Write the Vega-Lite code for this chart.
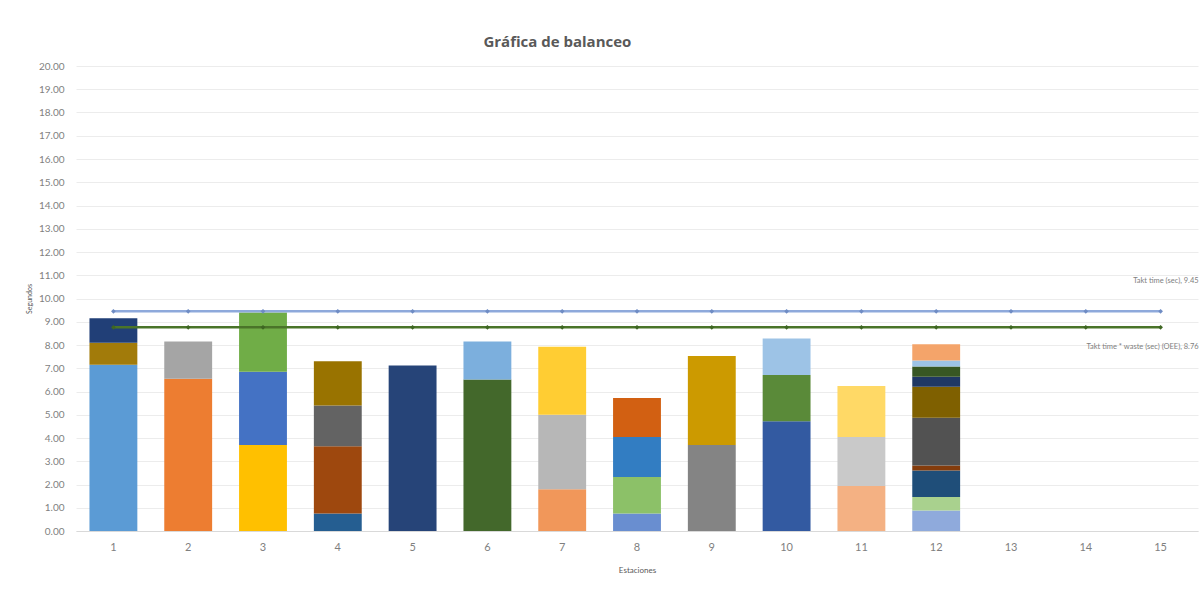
{
  "$schema": "https://vega.github.io/schema/vega-lite/v6.json",
  "autosize": "none",
  "width": 1122,
  "height": 465,
  "padding": {"left": 76, "top": 66, "right": 6, "bottom": 63},
  "background": "white",
  "config": {
    "font": "Lato",
    "view": {"stroke": null}
  },
  "title": {
    "text": "Gráfica de balanceo",
    "anchor": "start",
    "dx": 458,
    "offset": 11,
    "fontSize": 15,
    "fontWeight": "bold",
    "font": "Open Sans",
    "color": "#595959"
  },
  "datasets": {
    "tasks": [
      {"station": 1, "task": 1, "seconds": 7.15},
      {"station": 1, "task": 41, "seconds": 0.95},
      {"station": 1, "task": 42, "seconds": 1.05},
      {"station": 2, "task": 2, "seconds": 6.55},
      {"station": 2, "task": 3, "seconds": 1.6},
      {"station": 3, "task": 4, "seconds": 3.7},
      {"station": 3, "task": 5, "seconds": 3.15},
      {"station": 3, "task": 6, "seconds": 2.55},
      {"station": 4, "task": 7, "seconds": 0.75},
      {"station": 4, "task": 8, "seconds": 2.9},
      {"station": 4, "task": 9, "seconds": 1.75},
      {"station": 4, "task": 10, "seconds": 1.9},
      {"station": 5, "task": 11, "seconds": 7.12},
      {"station": 6, "task": 12, "seconds": 6.52},
      {"station": 6, "task": 13, "seconds": 1.63},
      {"station": 7, "task": 14, "seconds": 1.8},
      {"station": 7, "task": 15, "seconds": 3.2},
      {"station": 7, "task": 16, "seconds": 2.93},
      {"station": 8, "task": 17, "seconds": 0.75},
      {"station": 8, "task": 18, "seconds": 1.57},
      {"station": 8, "task": 19, "seconds": 1.72},
      {"station": 8, "task": 20, "seconds": 1.68},
      {"station": 9, "task": 21, "seconds": 3.7},
      {"station": 9, "task": 22, "seconds": 3.83},
      {"station": 10, "task": 23, "seconds": 4.72},
      {"station": 10, "task": 24, "seconds": 1.99},
      {"station": 10, "task": 25, "seconds": 1.57},
      {"station": 11, "task": 26, "seconds": 1.94},
      {"station": 11, "task": 27, "seconds": 2.1},
      {"station": 11, "task": 28, "seconds": 2.2},
      {"station": 12, "task": 29, "seconds": 0.88},
      {"station": 12, "task": 30, "seconds": 0.58},
      {"station": 12, "task": 31, "seconds": 1.14},
      {"station": 12, "task": 32, "seconds": 0.22},
      {"station": 12, "task": 33, "seconds": 2.05},
      {"station": 12, "task": 34, "seconds": 1.33},
      {"station": 12, "task": 35, "seconds": 0.43},
      {"station": 12, "task": 36, "seconds": 0.45},
      {"station": 12, "task": 37, "seconds": 0.25},
      {"station": 12, "task": 38, "seconds": 0.7}
    ],
    "takt": [
      {"station": 1, "series": "Takt time (sec)", "seconds": 9.45},
      {"station": 2, "series": "Takt time (sec)", "seconds": 9.45},
      {"station": 3, "series": "Takt time (sec)", "seconds": 9.45},
      {"station": 4, "series": "Takt time (sec)", "seconds": 9.45},
      {"station": 5, "series": "Takt time (sec)", "seconds": 9.45},
      {"station": 6, "series": "Takt time (sec)", "seconds": 9.45},
      {"station": 7, "series": "Takt time (sec)", "seconds": 9.45},
      {"station": 8, "series": "Takt time (sec)", "seconds": 9.45},
      {"station": 9, "series": "Takt time (sec)", "seconds": 9.45},
      {"station": 10, "series": "Takt time (sec)", "seconds": 9.45},
      {"station": 11, "series": "Takt time (sec)", "seconds": 9.45},
      {"station": 12, "series": "Takt time (sec)", "seconds": 9.45},
      {"station": 13, "series": "Takt time (sec)", "seconds": 9.45},
      {"station": 14, "series": "Takt time (sec)", "seconds": 9.45},
      {"station": 15, "series": "Takt time (sec)", "seconds": 9.45},
      {"station": 1, "series": "Takt time * waste (sec) (OEE)", "seconds": 8.76},
      {"station": 2, "series": "Takt time * waste (sec) (OEE)", "seconds": 8.76},
      {"station": 3, "series": "Takt time * waste (sec) (OEE)", "seconds": 8.76},
      {"station": 4, "series": "Takt time * waste (sec) (OEE)", "seconds": 8.76},
      {"station": 5, "series": "Takt time * waste (sec) (OEE)", "seconds": 8.76},
      {"station": 6, "series": "Takt time * waste (sec) (OEE)", "seconds": 8.76},
      {"station": 7, "series": "Takt time * waste (sec) (OEE)", "seconds": 8.76},
      {"station": 8, "series": "Takt time * waste (sec) (OEE)", "seconds": 8.76},
      {"station": 9, "series": "Takt time * waste (sec) (OEE)", "seconds": 8.76},
      {"station": 10, "series": "Takt time * waste (sec) (OEE)", "seconds": 8.76},
      {"station": 11, "series": "Takt time * waste (sec) (OEE)", "seconds": 8.76},
      {"station": 12, "series": "Takt time * waste (sec) (OEE)", "seconds": 8.76},
      {"station": 13, "series": "Takt time * waste (sec) (OEE)", "seconds": 8.76},
      {"station": 14, "series": "Takt time * waste (sec) (OEE)", "seconds": 8.76},
      {"station": 15, "series": "Takt time * waste (sec) (OEE)", "seconds": 8.76}
    ],
    "labels": [
      {"station": 15, "series": "Takt time (sec)", "seconds": 10.75, "label": "Takt time (sec), 9.45"},
      {"station": 15, "series": "Takt time * waste (sec) (OEE)", "seconds": 7.9, "label": "Takt time * waste (sec) (OEE), 8.76"}
    ]
  },
  "encoding": {
    "x": {
      "field": "station",
      "type": "ordinal",
      "scale": {"domain": [1,2,3,4,5,6,7,8,9,10,11,12,13,14,15], "paddingInner": 0.36, "paddingOuter": 0.18},
      "axis": {
        "title": "Estaciones",
        "titleFontSize": 8,
        "titleFontWeight": "normal",
        "titleColor": "#595959",
        "titlePadding": 14,
        "labelAngle": 0,
        "labelFontSize": 11,
        "labelColor": "#7f7f7f",
        "labelPadding": 10,
        "ticks": false,
        "domainColor": "#d9d9d9",
        "grid": false
      }
    },
    "y": {
      "field": "seconds",
      "type": "quantitative",
      "scale": {"domain": [0, 20], "nice": false},
      "axis": {
        "title": "Segundos",
        "titleFontSize": 7,
        "titleFontWeight": "normal",
        "titleColor": "#595959",
        "titlePadding": 6,
        "values": [0,1,2,3,4,5,6,7,8,9,10,11,12,13,14,15,16,17,18,19,20],
        "format": ".2f",
        "labelFontSize": 10,
        "labelColor": "#7f7f7f",
        "labelPadding": 12,
        "ticks": false,
        "domain": false,
        "gridColor": "#ececec",
        "gridWidth": 1
      }
    }
  },
  "layer": [
    {
      "data": {"name": "tasks"},
      "mark": {"type": "bar"},
      "encoding": {
        "color": {
          "field": "task",
          "type": "nominal",
          "legend": null,
          "scale": {
            "domain": [1,2,3,4,5,6,7,8,9,10,11,12,13,14,15,16,17,18,19,20,21,22,23,24,25,26,27,28,29,30,31,32,33,34,35,36,37,38,41,42],
            "range": ["#5B9BD5","#ED7D31","#A5A5A5","#FFC000","#4472C4","#70AD47","#255E91","#9E480E","#636363","#997300","#264478","#43682B","#7CAFDD","#F1975A","#B7B7B7","#FFCD33","#698ED0","#8CC168","#327DC2","#D26012","#848484","#CC9A00","#335AA1","#5A8A39","#9DC3E6","#F4B183","#C9C9C9","#FFD966","#8FAADC","#A9D18E","#1F4E79","#843C0C","#525252","#7F6000","#203864","#385723","#9DC3E6","#F4A46A","#A27B0A","#213F77"]
          }
        },
        "order": {"field": "task", "type": "quantitative"}
      }
    },
    {
      "data": {"name": "takt"},
      "mark": {"type": "line", "strokeWidth": 2.5},
      "encoding": {
        "detail": {"field": "series"},
        "stroke": {
          "field": "series",
          "type": "nominal",
          "legend": null,
          "scale": {"domain": ["Takt time (sec)", "Takt time * waste (sec) (OEE)"], "range": ["#8EA9DB", "#4A7429"]}
        }
      }
    },
    {
      "data": {"name": "takt"},
      "mark": {"type": "point", "shape": "diamond", "size": 22, "filled": true, "opacity": 1},
      "encoding": {
        "fill": {
          "field": "series",
          "type": "nominal",
          "legend": null,
          "scale": {"domain": ["Takt time (sec)", "Takt time * waste (sec) (OEE)"], "range": ["#6F8CC4", "#3E6622"]}
        }
      }
    },
    {
      "data": {"name": "labels"},
      "mark": {"type": "text", "align": "right", "baseline": "middle", "fontSize": 7.5, "dx": 38, "fill": "#808080"},
      "encoding": {
        "text": {"field": "label"}
      }
    }
  ],
  "resolve": {"scale": {"color": "independent", "fill": "independent", "stroke": "independent"}}
}
